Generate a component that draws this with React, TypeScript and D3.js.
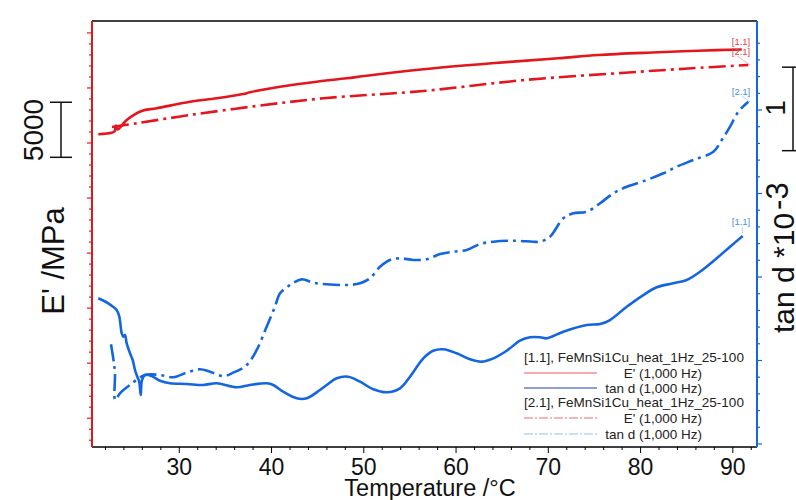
import React from "react";
import * as d3 from "d3";

// E' (MPa) vs temperature, run [1.1]
const eModulus11: [number, number][] = [
  [21.22, 70800], [22.67, 70940], [22.98, 71045], [23.14, 71590], [23.3, 71226],
  [24.3, 72089], [25.92, 72907], [27.55, 73152], [31.16, 73752], [34.05, 74061],
  [36.94, 74451], [37.66, 74606], [40.92, 75114], [44.89, 75568], [48.15, 75877],
  [50.31, 76113], [56.45, 76695], [63.86, 77240], [71.08, 77694], [75.42, 77994],
  [81.93, 78239], [86.26, 78384], [90.97, 78494],
];

// E' (MPa), run [2.1]
const eModulus21: [number, number][] = [
  [22.7, 71453], [25.38, 71790], [31.16, 72544], [38.39, 73361], [45.61, 74061],
  [56.45, 74724], [67.47, 75723], [78.31, 76386], [85.54, 76786], [91.68, 77086],
];

// tan d (*10^-3), run [1.1]
const tanD11: [number, number][] = [
  [21.22, 2.745], [22.3, 2.685], [23.21, 2.605], [23.5, 2.525], [23.76, 2.326],
  [23.93, 2.285], [24.11, 2.305], [24.3, 2.206], [24.66, 2.086], [24.95, 2.006],
  [25.2, 1.886], [25.45, 1.806], [25.66, 1.746], [25.82, 1.587], [25.96, 1.766],
  [26.29, 1.826], [27.01, 1.814], [27.91, 1.758], [29.0, 1.727], [30.8, 1.719],
  [32.6, 1.707], [34.05, 1.727], [36.22, 1.679], [37.66, 1.707], [39.47, 1.727],
  [40.19, 1.707], [41.27, 1.626], [42.73, 1.547], [43.81, 1.547], [45.25, 1.647],
  [45.98, 1.707], [47.06, 1.787], [48.32, 1.806], [49.59, 1.746], [51.03, 1.655],
  [52.48, 1.619], [53.92, 1.667], [55.01, 1.806], [56.45, 2.026], [57.53, 2.117],
  [58.62, 2.134], [60.07, 2.086], [61.51, 2.014], [62.78, 1.986], [64.04, 2.026],
  [65.49, 2.117], [66.93, 2.237], [68.02, 2.278], [69.1, 2.278], [69.83, 2.266],
  [71.63, 2.345], [74.16, 2.425], [75.61, 2.437], [76.69, 2.485], [78.5, 2.644],
  [80.3, 2.784], [81.75, 2.877], [83.55, 2.925], [85.0, 2.964], [86.44, 3.063],
  [88.25, 3.224], [89.7, 3.363], [91.07, 3.491],
];

// tan d (*10^-3), run [2.1]
const tanD21: [number, number][] = [
  [22.6, 2.194], [22.92, 1.966], [23.03, 1.847], [23.05, 1.527], [23.57, 1.607],
  [24.66, 1.707], [26.29, 1.826], [27.91, 1.826], [29.35, 1.799], [30.8, 1.854],
  [32.24, 1.895], [33.33, 1.866], [34.77, 1.814], [35.85, 1.854], [37.31, 1.946],
  [38.39, 2.126], [39.47, 2.405], [40.37, 2.644], [40.92, 2.805], [42.0, 2.904],
  [43.27, 2.972], [44.53, 2.932], [45.98, 2.913], [48.15, 2.904], [49.59, 2.925],
  [50.67, 2.984], [51.76, 3.123], [52.84, 3.204], [53.92, 3.224], [55.37, 3.204],
  [56.82, 3.212], [58.26, 3.275], [59.7, 3.303], [61.15, 3.323], [62.6, 3.395],
  [64.04, 3.423], [66.21, 3.435], [68.37, 3.423], [69.1, 3.423], [70.18, 3.483],
  [71.63, 3.703], [72.71, 3.763], [74.16, 3.782], [75.61, 3.883], [77.05, 4.002],
  [78.5, 4.081], [80.67, 4.162], [82.47, 4.242], [83.92, 4.321], [85.72, 4.401],
  [87.89, 4.501], [88.8, 4.641], [89.7, 4.8], [90.6, 4.98], [91.68, 5.099],
];

const xTickLabels = [30, 40, 50, 60, 70, 80, 90];
const legendTitles = [
  "[1.1], FeMnSi1Cu_heat_1Hz_25-100",
  "[2.1], FeMnSi1Cu_heat_1Hz_25-100",
];
const legendItems = ["E' (1,000 Hz)", "tan d (1,000 Hz)"];

const RED = "#e3161d";
const BLUE = "#1366e0";
const FONT = "'Liberation Sans', Arial, sans-serif";

const App = () => {
  const left = 92;
  const right = 757;
  const top = 21;
  const bottom = 447;

  const x = d3.scaleLinear().domain([20.54, 92.62]).range([left, right]);
  const yE = d3.scaleLinear().domain([42385, 81082]).range([bottom, top]);
  const yT = d3.scaleLinear().domain([0.964, 6.066]).range([bottom, top]);

  const curve = d3.curveCatmullRom.alpha(0.5);
  const lineE = d3
    .line<[number, number]>()
    .x((d) => x(d[0]))
    .y((d) => yE(d[1]))
    .curve(curve);
  const lineT = d3
    .line<[number, number]>()
    .x((d) => x(d[0]))
    .y((d) => yT(d[1]))
    .curve(curve);

  const xMinor = d3.range(22, 92.1, 2);
  const eTicks = d3.range(43000, 80001, 1000);
  const tTicks = d3.range(10, 59, 2).map((v) => v / 10);

  // scale bars: 5000 MPa and 1 (*10^-3)
  const eBar0 = 68700;
  const tBar0 = 4.513;

  const dashDot = "17,5,3,5";

  const lgX = 524;
  const lgEnd = 702;
  const lgY = [361.5, 378, 393, 406.5, 423, 439];

  return (
    <svg
      width={796}
      height={500}
      style={{ position: "absolute", left: 0, top: 0, background: "#fff" }}
      fontFamily={FONT}
    >
      {/* frame */}
      <line x1={left} x2={right} y1={top} y2={top} stroke="#000" strokeWidth={1.5} />
      <line x1={left} x2={right} y1={bottom} y2={bottom} stroke="#000" strokeWidth={1.5} />

      {/* bottom axis */}
      {xMinor.map((t) => (
        <line
          key={"xm" + t}
          x1={x(t)}
          x2={x(t)}
          y1={bottom}
          y2={bottom + (t % 10 === 0 ? 6 : 3)}
          stroke="#000"
          strokeWidth={1}
        />
      ))}
      {xTickLabels.map((t) => (
        <text key={"xl" + t} x={x(t)} y={475} fontSize={23} textAnchor="middle" fill="#111">
          {t}
        </text>
      ))}
      <text x={430} y={496} fontSize={23.5} textAnchor="middle" fill="#111">
        Temperature /°C
      </text>

      {/* left axis E' */}
      <line x1={left} x2={left} y1={top} y2={bottom} stroke={RED} strokeWidth={2} />
      {eTicks.map((v) => (
        <line
          key={"e" + v}
          x1={left}
          x2={left - (v % 5000 === 0 ? 5 : 3)}
          y1={yE(v)}
          y2={yE(v)}
          stroke={RED}
          strokeWidth={1.2}
        />
      ))}
      <g stroke="#111" strokeWidth={1.5}>
        <line x1={61} x2={61} y1={yE(eBar0)} y2={yE(eBar0 + 5000)} />
        <line x1={50} x2={72} y1={yE(eBar0)} y2={yE(eBar0)} />
        <line x1={50} x2={72} y1={yE(eBar0 + 5000)} y2={yE(eBar0 + 5000)} />
      </g>
      <text transform="translate(43,130) rotate(-90)" fontSize={28} textAnchor="middle" fill="#111">
        5000
      </text>
      <text transform="translate(64,261) rotate(-90)" fontSize={31} textAnchor="middle" fill="#111">
        E' /MPa
      </text>

      {/* right axis tan d */}
      <line x1={right} x2={right} y1={top} y2={bottom} stroke={BLUE} strokeWidth={2} />
      {tTicks.map((v) => (
        <line
          key={"t" + v}
          x1={right}
          x2={right + (Math.abs(v - Math.round(v)) < 1e-6 ? 5 : 3)}
          y1={yT(v)}
          y2={yT(v)}
          stroke={BLUE}
          strokeWidth={1.2}
        />
      ))}
      <g stroke="#111" strokeWidth={1.5}>
        <line x1={793} x2={793} y1={yT(tBar0)} y2={yT(tBar0 + 1)} />
        <line x1={782} x2={800} y1={yT(tBar0)} y2={yT(tBar0)} />
        <line x1={782} x2={800} y1={yT(tBar0 + 1)} y2={yT(tBar0 + 1)} />
      </g>
      <text transform="translate(785,108) rotate(-90)" fontSize={28} textAnchor="middle" fill="#111">
        1
      </text>
      <text transform="translate(794,333) rotate(-90)" fontSize={30} fill="#111">
        tan d *10
        <tspan fontSize={31} dx={3} dy={-6}>-3</tspan>
      </text>

      {/* curves */}
      <path d={lineE(eModulus11) || ""} fill="none" stroke={RED} strokeWidth={2.6} strokeLinejoin="round" />
      <path
        d={lineE(eModulus21) || ""}
        fill="none"
        stroke={RED}
        strokeWidth={2.6}
        strokeDasharray={dashDot}
      />
      <path d={lineT(tanD11) || ""} fill="none" stroke={BLUE} strokeWidth={2.6} strokeLinejoin="round" />
      <path
        d={lineT(tanD21) || ""}
        fill="none"
        stroke={BLUE}
        strokeWidth={2.6}
        strokeDasharray={dashDot}
      />

      {/* curve tags */}
      <g fontSize={9.5} textAnchor="middle">
        <text x={741} y={45} fill="#e04848">[1.1]</text>
        <text x={741} y={55} fill="#e04848">[2.1]</text>
        <text x={741} y={94.5} fill="#4a8ee6">[2.1]</text>
        <text x={741} y={225} fill="#4a8ee6">[1.1]</text>
      </g>
      <g strokeWidth={0.6} fill="none">
        <line x1={737} y1={56} x2={750} y2={65} stroke="#e88080" />
        <line x1={742} y1={96} x2={750} y2={102} stroke="#80b0ee" />
        <line x1={742} y1={227} x2={742.5} y2={233} stroke="#80b0ee" />
      </g>

      {/* legend */}
      <g fontSize={13.5} fill="#222">
        <text x={lgX} y={lgY[0]}>{legendTitles[0]}</text>
        <text x={lgEnd} y={lgY[1]} textAnchor="end">{legendItems[0]}</text>
        <text x={lgEnd} y={lgY[2]} textAnchor="end">{legendItems[1]}</text>
        <text x={lgX} y={lgY[3]}>{legendTitles[1]}</text>
        <text x={lgEnd} y={lgY[4]} textAnchor="end">{legendItems[0]}</text>
        <text x={lgEnd} y={lgY[5]} textAnchor="end">{legendItems[1]}</text>
      </g>
      <line x1={lgX} x2={597} y1={lgY[1] - 5} y2={lgY[1] - 5} stroke="#f05858" strokeWidth={1.2} />
      <line x1={lgX} x2={597} y1={lgY[2] - 5} y2={lgY[2] - 5} stroke="#1f3fb0" strokeWidth={1.2} />
      <line
        x1={lgX}
        x2={597}
        y1={lgY[4] - 5}
        y2={lgY[4] - 5}
        stroke="#e07070"
        strokeWidth={1.2}
        strokeDasharray="9,2,2,2"
      />
      <line
        x1={lgX}
        x2={597}
        y1={lgY[5] - 5}
        y2={lgY[5] - 5}
        stroke="#90c0f2"
        strokeWidth={1.2}
        strokeDasharray="9,2,2,2"
      />
    </svg>
  );
};

export default App;
